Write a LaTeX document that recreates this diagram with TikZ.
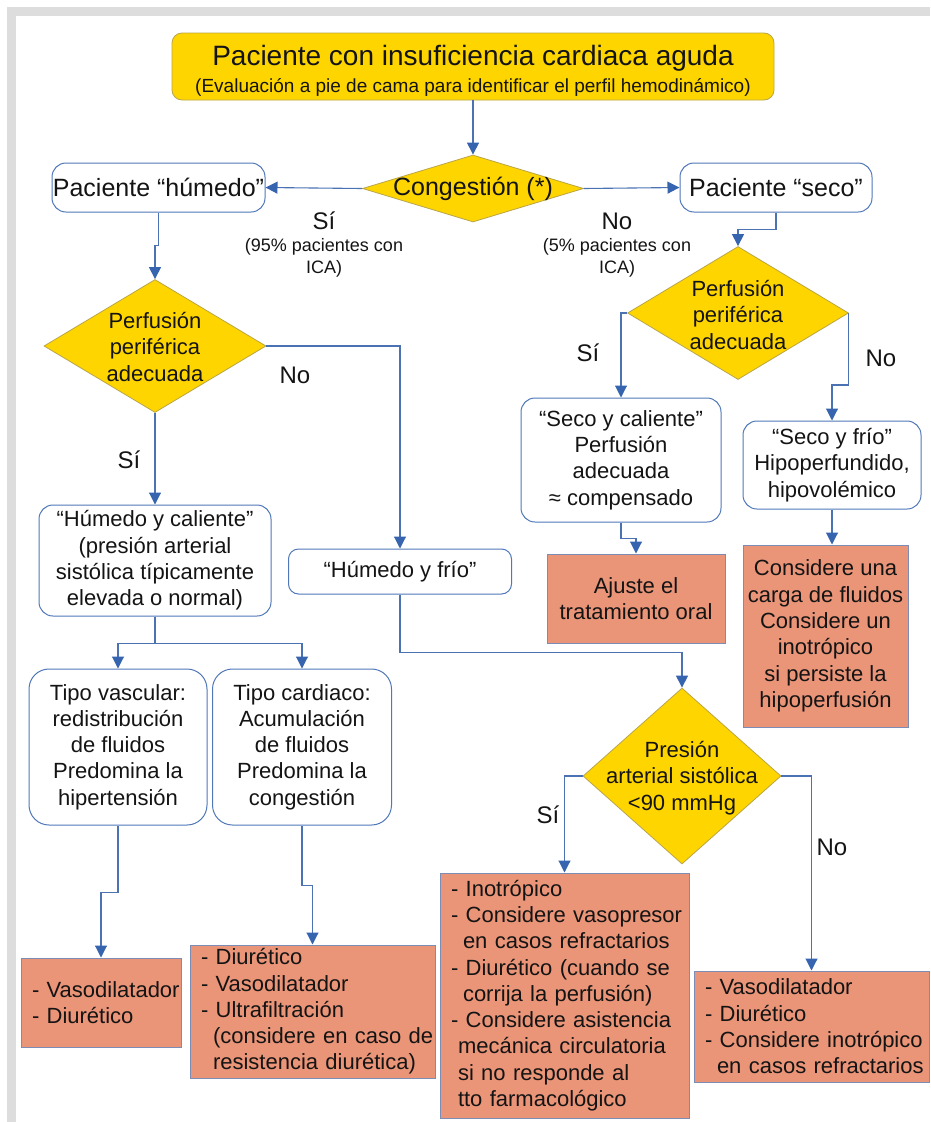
\documentclass[tikz,border=0pt]{standalone}
\usepackage{fontspec}
\setmainfont{Liberation Sans}
\usetikzlibrary{arrows.meta,shapes.geometric,calc}
\definecolor{gold}{RGB}{255,213,0}
\definecolor{goldline}{RGB}{185,165,70}
\definecolor{salmon}{RGB}{234,148,120}
\definecolor{salmonline}{RGB}{125,140,180}
\definecolor{boxline}{RGB}{80,120,185}
\definecolor{conn}{RGB}{75,115,180}
\definecolor{tipc}{RGB}{55,100,175}
\definecolor{framec}{RGB}{221,221,221}
\definecolor{ink}{RGB}{20,20,20}
\newcommand\rowtxt[1]{\mbox{#1}}
\begin{document}
\begin{tikzpicture}[x=1pt,y=-1pt,
 txt/.style={font=\fontsize{22}{26.3}\selectfont, text=ink, align=center, inner sep=0pt},
 sz/.style 2 args={minimum width=#1pt, minimum height=#2pt},
 wbox/.style={draw=boxline, line width=1pt, fill=white, rounded corners=14pt, txt},
 sbox/.style={draw=salmonline, line width=1pt, fill=salmon, txt},
 lbox/.style={sbox, align=left, inner xsep=11pt, inner ysep=0pt},
 dia/.style={diamond, draw=goldline, line width=0.8pt, fill=gold, inner sep=0pt},
 arr/.style={draw=conn, line width=1.1pt, -{Triangle[width=12pt,length=12pt,color=tipc]}},
 lab/.style={font=\fontsize{24}{26}\selectfont, text=ink, inner sep=0pt},
 small/.style={font=\fontsize{18}{22}\selectfont, text=ink, align=center, inner sep=0pt},
]
\useasboundingbox (0,0) rectangle (930,1122);
\fill[framec] (7,7) rectangle (930,16);
\fill[framec] (7,7) rectangle (16,1122);

% top
\node[draw=goldline, fill=gold, rounded corners=10pt, line width=0.8pt, sz={602}{67}] (top) at (473,66.5) {};
\node[font=\fontsize{28}{30}\selectfont, inner sep=0pt, text=ink] (topA) at (473,58) {Paciente con insuficiencia cardiaca aguda};
\node[font=\fontsize{19}{22}\selectfont, inner sep=0pt, text=ink] (topB) at (473,87) {(Evaluación a pie de cama para identificar el perfil hemodinámico)};

% congestion
\node[dia, sz={221}{67}] (cong) at (473,188.5) {};
\node[font=\fontsize{25}{28}\selectfont, inner sep=0pt, text=ink] (congT) at (473,189) {Congestión (*)};

\node[wbox, sz={213}{49}, font=\fontsize{25}{28}\selectfont] (hum) at (158.5,187.5) {Paciente “húmedo”};
\node[wbox, sz={192}{49}, font=\fontsize{25}{28}\selectfont] (seco) at (776,187.5) {Paciente “seco”};

\node[lab] (siA) at (324,221) {Sí};
\node[small] (siAt) at (324,258) {(95\% pacientes con\\ICA)};
\node[lab] (noA) at (617,221) {No};
\node[small] (noAt) at (617,258) {(5\% pacientes con\\ICA)};

% perfusion diamonds
\node[dia, sz={222}{133}] (perfL) at (155,346) {};
\node[txt] (perfLT) at (155,347) {Perfusión\\periférica\\adecuada};
\node[dia, sz={221}{133}] (perfR) at (738,313) {};
\node[txt] (perfRT) at (738,315) {Perfusión\\periférica\\adecuada};

% white boxes
\node[wbox, sz={232}{111}] (hc) at (155,560.5) {“Húmedo y caliente”\\(presión arterial\\sistólica típicamente\\elevada o normal)};
\node[wbox, sz={223}{45}, rounded corners=10pt] (hf) at (400,571.5) {“Húmedo y frío”};
\node[wbox, sz={200}{124}] (sc) at (621,460) {“Seco y caliente”\\Perfusión\\adecuada\\≈ compensado};
\node[wbox, sz={178}{88}] (sf) at (832,465) {“Seco y frío”\\Hipoperfundido,\\hipovolémico};
\node[wbox, sz={178}{156}, rounded corners=20pt] (tv) at (118,747) {Tipo vascular:\\redistribución\\de fluidos\\Predomina la\\hipertensión};
\node[wbox, sz={179}{156}, rounded corners=20pt] (tc) at (302,747) {Tipo cardiaco:\\Acumulación\\de fluidos\\Predomina la\\congestión};

% salmon boxes
\node[sbox, sz={178}{89}] (aj) at (636,598.5) {Ajuste el\\tratamiento oral};
\node[sbox, sz={165}{182}] (cu) at (825.5,636) {Considere una\\carga de fluidos\\Considere un\\inotrópico\\si persiste la\\hipoperfusión};

% pressure diamond
\node[dia, sz={198}{176}] (pres) at (682,776) {};
\node[txt] (presT) at (682,778) {Presión\\arterial sistólica\\<90 mmHg};

% list boxes
\node[lbox, text width=138pt, minimum height=89pt] (vl) at (101,1002.5) {\rowtxt{- Vasodilatador}\\\rowtxt{- Diurético}};
\node[lbox, text width=223pt, minimum height=133pt] (di) at (312.5,1011.5) {\rowtxt{- Diurético}\\\rowtxt{- Vasodilatador}\\\rowtxt{- Ultrafiltración}\\\rowtxt{\hspace*{12pt}(considere en caso de}\\\rowtxt{\hspace*{12pt}resistencia diurética)}};
\node[lbox, text width=227pt, minimum height=245pt] (ino) at (564.5,995.5) {\rowtxt{- Inotrópico}\\\rowtxt{- Considere vasopresor}\\\rowtxt{\hspace*{12pt}en casos refractarios}\\\rowtxt{- Diurético (cuando se}\\\rowtxt{\hspace*{12pt}corrija la perfusión)}\\\rowtxt{- Considere asistencia}\\\rowtxt{\hspace*{7pt}mecánica circulatoria}\\\rowtxt{\hspace*{7pt}si no responde al}\\\rowtxt{\hspace*{7pt}tto farmacológico}};
\node[lbox, text width=213pt, minimum height=111pt] (vr) at (811.5,1026.5) {\rowtxt{- Vasodilatador}\\\rowtxt{- Diurético}\\\rowtxt{- Considere inotrópico}\\\rowtxt{\hspace*{12pt}en casos refractarios}};

% branch labels
\node[lab] (siL) at (129,460) {Sí};
\node[lab] (noL) at (295,375) {No};
\node[lab] (siR) at (588,353) {Sí};
\node[lab] (noR) at (881,358) {No};
\node[lab] (siP) at (548,815) {Sí};
\node[lab] (noP) at (832,847) {No};

% connectors
\draw[arr] (top.south) -- (cong.north);
\draw[arr] (cong.west) -- (hum.east);
\draw[arr] (cong.east) -- (seco.west);
\draw[arr] (hum.south) -- ++(0,33) -| (perfL.north);
\draw[arr] (seco.south) -- ++(0,17) -| (perfR.north);
\draw[arr] (perfL.south) -- (hc.north);
\draw[arr] (perfL.east) -| (hf.north);
\draw[arr] (perfR.west) -| (sc.north);
\draw[arr] (perfR.east) -- ++(0,72) -| (sf.north);
\draw[arr] (sc.south) -- ++(0,16) -| (aj.north);
\draw[arr] (sf.south) -- (sf.south |- cu.north);
\draw[arr] (hf.south) -- ++(0,58) -| (pres.north);
\draw[arr] (pres.west) -| (ino.north);
\draw[arr] (pres.east) -| (vr.north);
\draw[arr] (hc.south) -- ++(0,27) -| (tv.north);
\draw[arr] (hc.south) -- ++(0,27) -| (tc.north);
\draw[arr] (tv.south) -- ++(0,67) -| (vl.north);
\draw[arr] (tc.south) -- ++(0,60) -| (di.north);
\end{tikzpicture}
\end{document}
